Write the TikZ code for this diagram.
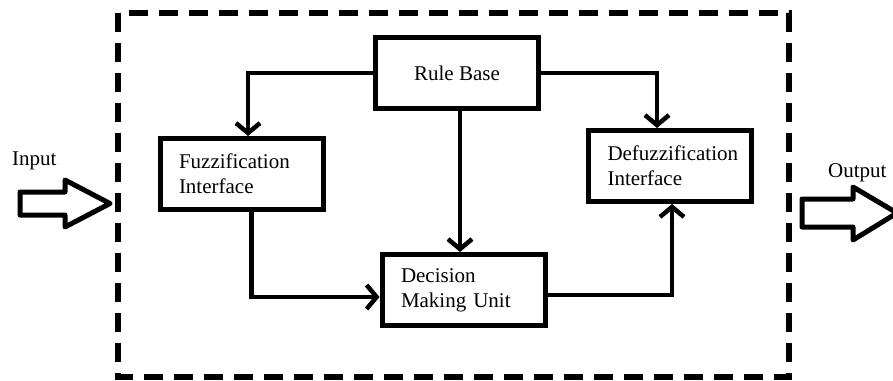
\documentclass[tikz,border=0pt]{standalone}
\usepackage{fontspec}
\setmainfont{Liberation Serif}
\usetikzlibrary{arrows.meta}

\begin{document}
\begin{tikzpicture}[x=1pt,y=-1pt,
    font=\fontsize{21}{25}\selectfont,
    blok/.style={draw, line width=5pt, minimum width=163pt, minimum height=71pt},
    dublok/.style={blok, text width=125pt, inner xsep=19pt, align=left},
    jungtis/.style={line width=4.5pt, -{Straight Barb[length=10pt,width=24pt,line width=4.5pt]}},
    remas/.style={line width=5.5pt, dash pattern=on 19pt off 11pt},
    storasis/.style={line width=5pt, line join=round}]
  \useasboundingbox (0,0) rectangle (893,380);

  % Sistemos riba
  \draw[remas] (118,13) rectangle (789,377);

  % Blokai
  \node[blok] (rule) at (457,73) {Rule Base};
  \node[dublok] (fuzz) at (241.5,174) {Fuzzification\\Interface};
  \node[dublok] (defuzz) at (670,166) {Defuzzification\\Interface};
  \node[dublok] (dec) at (463.5,290) {Decision\\Making Unit};

  % Jungtys
  \draw[jungtis] (rule.west) -| ([xshift=6.5pt]fuzz.north);
  \draw[jungtis] (rule.east) -| ([xshift=-13pt]defuzz.north);
  \draw[jungtis] ([xshift=3pt]rule.south) -- ([xshift=3pt]rule.south |- dec.north);
  \draw[jungtis] ([xshift=10pt]fuzz.south) |- ([yshift=-7pt]dec.west);
  \draw[jungtis] ([yshift=-5pt]dec.east) -| ([xshift=2pt]defuzz.south);

  % Iejimas ir isejimas
  \node[anchor=base west, inner sep=0pt] (in) at (12,165) {Input};
  \node[anchor=base west, inner sep=0pt] (out) at (828,177) {Output};
  \draw[storasis] (20,192) -- (65,192) -- (65,180) -- (110,203.5)
    -- (65,227) -- (65,215) -- (20,215) -- cycle;
  \draw[storasis] (802,199) -- (853,199) -- (853,187) -- (897,213)
    -- (853,240) -- (853,227) -- (802,227) -- cycle;
\end{tikzpicture}
\end{document}
